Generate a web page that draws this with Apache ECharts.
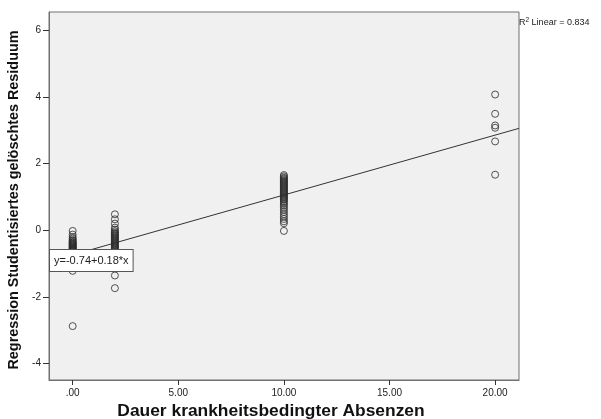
<!DOCTYPE html>
<html>
<head>
<meta charset="utf-8">
<script src="https://cdn.jsdelivr.net/npm/echarts@6/dist/echarts.min.js"></script>
<style>
  html, body { margin: 0; padding: 0; background: #fff; }
  #chart { width: 601px; height: 419px; }
</style>
</head>
<body>
<div id="chart"></div>
<script>
// Absence duration groups (days) and the studentized deleted residuals observed in each
const absenceDays = [0, 2, 10, 20];
const residualsDay0 = [-0.02, -0.13, -0.2, -0.25, -0.29, -0.32, -0.35, -0.37, -0.39, -0.41, -0.43,
  -0.45, -0.47, -0.49, -0.51, -0.53, -0.55, -0.57, -0.59, -0.61, -0.63, -0.66, -0.69, -0.72,
  -0.76, -0.81, -0.87, -0.93, -1.0, -1.08, -1.22, -2.88];
const residualsDay2 = [0.48, 0.33, 0.2, 0.08, 0.02, -0.03, -0.07, -0.1, -0.13, -0.16, -0.19,
  -0.22, -0.25, -0.28, -0.31, -0.34, -0.37, -0.4, -0.43, -0.46, -0.49, -0.52, -0.55, -0.58,
  -0.61, -0.65, -0.69, -0.74, -0.8, -0.88, -0.97, -1.36, -1.74];
const residualsDay10 = [1.66, 1.62, 1.58, 1.55, 1.52, 1.49, 1.46, 1.43, 1.4, 1.37, 1.34, 1.31,
  1.28, 1.25, 1.22, 1.19, 1.16, 1.13, 1.1, 1.07, 1.04, 1.01, 0.98, 0.95, 0.92, 0.88, 0.84,
  0.79, 0.74, 0.68, 0.62, 0.55, 0.48, 0.41, 0.34, 0.27, 0.21, -0.02];
const residualsDay20 = [4.08, 3.5, 3.15, 3.08, 2.67, 1.67];

// Axis ticks and their printed labels
const xTickValues = [0, 5, 10, 15, 20];
const xTickLabels = ['.00', '5.00', '10.00', '15.00', '20.00'];
const yTickValues = [-4, -2, 0, 2, 4, 6];
const yTickLabels = ['-4', '-2', '0', '2', '4', '6'];

// Linear fit
const fitIntercept = -0.74;
const fitSlope = 0.18;
const rSquared = 0.834;

const X_MIN = -1.12, X_MAX = 21.13;
const Y_MIN = -4.5, Y_MAX = 6.56;
const FONT = 'Arial, "Liberation Sans", sans-serif';

const residualGroups = [residualsDay0, residualsDay2, residualsDay10, residualsDay20];
const points = [];
residualGroups.forEach((vals, i) => vals.forEach(v => points.push([absenceDays[i], v])));

const fitLine = [X_MIN, X_MAX].map(x => [x, fitIntercept + fitSlope * x]);

const axisLineStyle = { show: true, onZero: false, lineStyle: { color: '#707070', width: 1 } };

const chart = echarts.init(document.getElementById('chart'), null, { renderer: 'canvas' });
chart.setOption({
  animation: false,
  backgroundColor: '#ffffff',
  grid: {
    left: 49, top: 12, width: 470, height: 368,
    containLabel: false, outerBoundsMode: 'none',
    show: true, backgroundColor: '#f0f0f0', borderColor: '#707070', borderWidth: 1
  },
  xAxis: {
    type: 'value', min: X_MIN, max: X_MAX,
    name: 'Dauer krankheitsbedingter Absenzen',
    nameLocation: 'middle', nameGap: 20,
    nameTextStyle: { fontFamily: FONT, fontSize: 17.4, fontWeight: 'bold', color: '#111', padding: [0, 26, 0, 0] },
    axisLine: axisLineStyle,
    axisTick: { show: true, customValues: xTickValues, length: 5, lineStyle: { color: '#333' } },
    axisLabel: {
      customValues: xTickValues, margin: 8,
      fontFamily: FONT, fontSize: 10, color: '#222',
      formatter: v => xTickLabels[xTickValues.indexOf(v)]
    },
    splitLine: { show: false }
  },
  yAxis: {
    type: 'value', min: Y_MIN, max: Y_MAX,
    name: 'Regression Studentisiertes gelöschtes Residuum',
    nameLocation: 'middle', nameGap: 23,
    nameTextStyle: { fontFamily: FONT, fontSize: 14.4, fontWeight: 'bold', color: '#111', padding: [0, 8, 0, 0] },
    axisLine: axisLineStyle,
    axisTick: { show: true, customValues: yTickValues, length: 6, lineStyle: { color: '#333' } },
    axisLabel: {
      customValues: yTickValues, margin: 8,
      fontFamily: FONT, fontSize: 10, color: '#222',
      formatter: v => yTickLabels[yTickValues.indexOf(v)]
    },
    splitLine: { show: false }
  },
  series: [
    {
      type: 'line', data: fitLine, showSymbol: false, silent: true, z: 2,
      lineStyle: { color: '#333', width: 1 }
    },
    {
      type: 'scatter', data: points, symbol: 'circle', symbolSize: 7, z: 3,
      itemStyle: { color: 'rgba(0,0,0,0)', borderColor: '#2a2a2a', borderWidth: 1 }
    }
  ],
  graphic: [
    {
      type: 'text', x: 50, y: 250, z: 10,
      style: {
        text: 'y=' + fitIntercept.toFixed(2) + '+' + fitSlope.toFixed(2) + '*x',
        font: '11px ' + FONT, fill: '#222', lineHeight: 13,
        backgroundColor: '#ffffff', borderColor: '#555', borderWidth: 1, padding: [4, 4, 4, 4]
      }
    },
    {
      type: 'text', x: 519, y: 17, z: 10,
      style: {
        text: '{base|R}{sup|2}{base| Linear = ' + rSquared.toFixed(3) + '}',
        font: '9px ' + FONT, fill: '#222',
        rich: {
          base: { fontSize: 9, fontFamily: FONT, fill: '#222', lineHeight: 10, verticalAlign: 'bottom' },
          sup: { fontSize: 6.5, fontFamily: FONT, fill: '#222', lineHeight: 10, verticalAlign: 'top' }
        }
      }
    }
  ]
});
</script>
</body>
</html>
